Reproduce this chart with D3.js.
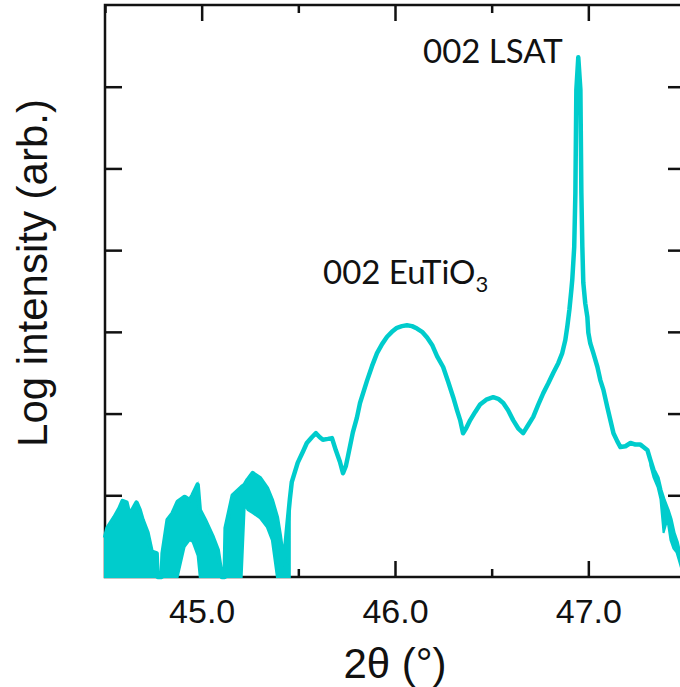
<!DOCTYPE html>
<html>
<head>
<meta charset="utf-8">
<script src="https://cdn.jsdelivr.net/npm/d3@7"></script>
<style>
  html, body { margin: 0; padding: 0; background: #fff; }
  svg { display: block; }
</style>
</head>
<body>
<svg id="chart" width="680" height="687"></svg>
<script>
// ---------------- data ----------------
// 2θ positions (degrees)
const twoTheta = [
  44.500, 44.513, 44.549, 44.575, 44.591, 44.611, 44.622, 44.637, 44.663, 44.679,
  44.694, 44.720, 44.741, 44.767, 44.772, 44.793, 44.798, 44.824, 44.850, 44.876,
  44.912, 44.938, 44.953, 44.979, 44.990, 45.016, 45.057, 45.083, 45.104, 45.119,
  45.124, 45.161, 45.207, 45.223, 45.238, 45.264, 45.301, 45.337, 45.363, 45.389,
  45.404, 45.425, 45.440, 45.456,
  45.466, 45.497, 45.523, 45.544, 45.570, 45.591, 45.611, 45.627, 45.653, 45.674,
  45.694, 45.715, 45.731, 45.746, 45.756, 45.782, 45.803, 45.819, 45.855, 45.881,
  45.907, 45.933, 45.959, 45.984, 46.010, 46.036, 46.062, 46.088, 46.114, 46.140,
  46.166, 46.192, 46.218, 46.249, 46.275, 46.301, 46.321, 46.337, 46.352, 46.368,
  46.389, 46.415, 46.440, 46.472, 46.508, 46.534, 46.560, 46.585, 46.611, 46.637,
  46.663, 46.689, 46.715, 46.741, 46.767, 46.793, 46.819, 46.845, 46.865, 46.881,
  46.891, 46.902, 46.912, 46.917, 46.927, 46.933, 46.938, 46.948, 46.959, 46.964,
  46.969, 46.974, 46.984, 46.995, 47.000, 47.010, 47.026, 47.047, 47.062, 47.078,
  47.098, 47.114, 47.130, 47.150, 47.166, 47.192, 47.218, 47.244, 47.269, 47.285,
  47.306, 47.321, 47.337, 47.358, 47.373, 47.389, 47.409, 47.425, 47.440, 47.456,
  47.466, 47.487, 47.503
];
// log intensity (upper edge of the trace)
const logI = [
  0.48, 0.60, 0.73, 0.84, 0.93, 0.91, 0.80, 0.80, 0.91, 0.82,
  0.70, 0.54, 0.31, 0.29, 0.00, 0.00, 0.29, 0.70, 0.78, 0.92,
  0.98, 0.94, 1.00, 1.13, 0.82, 0.70, 0.49, 0.33, 0.00, 0.00,
  0.60, 1.00, 1.10, 1.13, 1.19, 1.27, 1.21, 1.09, 0.94, 0.73,
  0.51, 0.15, 0.55, 0.95,
  1.16, 1.40, 1.53, 1.64, 1.71, 1.76, 1.71, 1.68, 1.69, 1.70,
  1.55, 1.41, 1.27, 1.36, 1.47, 1.77, 1.95, 2.13, 2.40, 2.58,
  2.74, 2.85, 2.94, 3.00, 3.05, 3.07, 3.08, 3.07, 3.04, 3.00,
  2.93, 2.84, 2.70, 2.57, 2.39, 2.20, 2.04, 1.92, 1.76, 1.82,
  1.92, 2.02, 2.11, 2.17, 2.20, 2.18, 2.13, 2.04, 1.92, 1.82,
  1.76, 1.86, 1.96, 2.11, 2.25, 2.37, 2.50, 2.62, 2.74, 2.90,
  3.06, 3.27, 3.51, 3.64, 4.04, 4.70, 5.96, 6.36, 5.96, 4.70,
  4.04, 3.60, 3.35, 3.18, 2.99, 2.86, 2.74, 2.57, 2.41, 2.29,
  2.08, 1.92, 1.76, 1.66, 1.59, 1.60, 1.64, 1.62, 1.62, 1.59,
  1.55, 1.43, 1.31, 1.21, 1.06, 0.94, 0.82, 0.70, 0.54, 0.43,
  0.33, 0.21, 0.09
];
// lower edge of the noise band (null where the trace is a single line)
const logILow = [
  0, 0, 0, 0, 0, 0, 0, 0, 0, 0,
  0, 0, 0, 0, 0, 0, 0, 0, 0, 0,
  0.37, 0.45, 0.43, 0.26, 0, 0, 0, 0, 0, 0,
  0, 0, 0, 0.88, 0.82, 0.78, 0.72, 0.61, 0.45, 0,
  0, 0, 0, 0,
  null, null, null, null, null, null, null, null, null, null,
  null, null, null, null, null, null, null, null, null, null,
  null, null, null, null, null, null, null, null, null, null,
  null, null, null, null, null, null, null, null, null, null,
  null, null, null, null, null, null, null, null, null, null,
  null, null, null, null, null, null, null, null, null, null,
  null, null, null, null, null, null, null, null, null, null,
  null, null, null, null, null, null, null, null, null, null,
  null, null, null, null, null, null, null, null, null, null,
  null, 1.36, 1.22, 1.10, 0.95, 0.54, 0.70, 0.45, 0.35, 0.30,
  0.22, 0.05, 0.00
];

const xMajorTicks = [45.0, 46.0, 47.0];
const xMinorTicks = [44.5, 45.5, 46.5, 47.5];
const yTicks = [1, 2, 3, 4, 5, 6];
const xTitle = "2θ (°)";
const yTitle = "Log intensity (arb.)";
const labelLSAT = "002 LSAT";
const labelETO = ["002 EuTiO", "3"];

// ---------------- chart ----------------
const svg = d3.select("#chart");
const pL = 105, pR = 685, pT = 5, pB = 577;
const x = d3.scaleLinear().domain([44.5, 47.5]).range([pL, pR]);
const y = d3.scaleLinear().domain([0, 7]).range([pB, pT]);

const axisColor = "#111";
const fmt = d3.format(".1f");

function styleAxis(g) {
  g.select(".domain").remove();
  g.selectAll(".tick line").attr("stroke", axisColor).attr("stroke-width", 2.5);
}

// frame
svg.append("rect")
  .attr("x", pL).attr("y", pT)
  .attr("width", pR - pL).attr("height", pB - pT)
  .attr("fill", "none").attr("stroke", axisColor).attr("stroke-width", 2.5);

// bottom axis: major ticks with labels
svg.append("g").attr("transform", `translate(0,${pB})`)
  .call(d3.axisBottom(x).tickValues(xMajorTicks).tickSizeInner(-16).tickSizeOuter(0).tickPadding(0).tickFormat(fmt))
  .call(styleAxis)
  .call(g => g.selectAll(".tick text").attr("y", 45.5).attr("dy", null)
      .attr("font-family", "'Liberation Sans', Arial, sans-serif").attr("font-size", 34).attr("fill", "#111"));
svg.append("g").attr("transform", `translate(0,${pB})`)
  .call(d3.axisBottom(x).tickValues(xMinorTicks).tickSizeInner(-8).tickSizeOuter(0).tickFormat(""))
  .call(styleAxis);
// top axis
svg.append("g").attr("transform", `translate(0,${pT})`)
  .call(d3.axisTop(x).tickValues(xMajorTicks).tickSizeInner(-16).tickSizeOuter(0).tickFormat(""))
  .call(styleAxis);
svg.append("g").attr("transform", `translate(0,${pT})`)
  .call(d3.axisTop(x).tickValues(xMinorTicks).tickSizeInner(-8).tickSizeOuter(0).tickFormat(""))
  .call(styleAxis);
// left / right axes
svg.append("g").attr("transform", `translate(${pL},0)`)
  .call(d3.axisLeft(y).tickValues(yTicks).tickSizeInner(-17).tickSizeOuter(0).tickFormat(""))
  .call(styleAxis);
svg.append("g").attr("transform", `translate(${pR},0)`)
  .call(d3.axisRight(y).tickValues(yTicks).tickSizeInner(-17).tickSizeOuter(0).tickFormat(""))
  .call(styleAxis);

// data
const pts = twoTheta.map((t, i) => ({ t, hi: logI[i], lo: logILow[i] }));
const cyan = "#00cccc";

const area = d3.area()
  .defined(d => d.lo !== null)
  .x(d => x(d.t))
  .y0(d => y(d.lo))
  .y1(d => y(d.hi));
svg.append("path").datum(pts)
  .attr("d", area)
  .attr("fill", cyan).attr("stroke", cyan).attr("stroke-width", 2);

const line = d3.line().x(d => x(d.t)).y(d => y(d.hi));
svg.append("path").datum(pts)
  .attr("d", line)
  .attr("fill", "none").attr("stroke", cyan)
  .attr("stroke-width", 4.5).attr("stroke-linejoin", "round");

// axis titles
svg.append("text")
  .attr("x", x(46.0)).attr("y", 678)
  .attr("text-anchor", "middle")
  .attr("font-family", "'Liberation Sans', Arial, sans-serif").attr("font-size", 42).attr("fill", "#111")
  .text(xTitle);
svg.append("text")
  .attr("transform", `translate(47,273) rotate(-90)`)
  .attr("text-anchor", "middle")
  .attr("font-family", "'Liberation Sans', Arial, sans-serif").attr("font-size", 42).attr("fill", "#111")
  .text(yTitle);

// peak annotations
const annFont = "Lato, 'Open Sans', sans-serif";
svg.append("text")
  .attr("x", 423).attr("y", 63)
  .attr("font-family", annFont).attr("font-size", 33).attr("fill", "#111")
  .text(labelLSAT);
const eto = svg.append("text")
  .attr("x", 323).attr("y", 284)
  .attr("font-family", annFont).attr("font-size", 33).attr("fill", "#111");
eto.append("tspan").text(labelETO[0]);
eto.append("tspan").attr("dy", 8).attr("font-size", 22).text(labelETO[1]);
</script>
</body>
</html>
